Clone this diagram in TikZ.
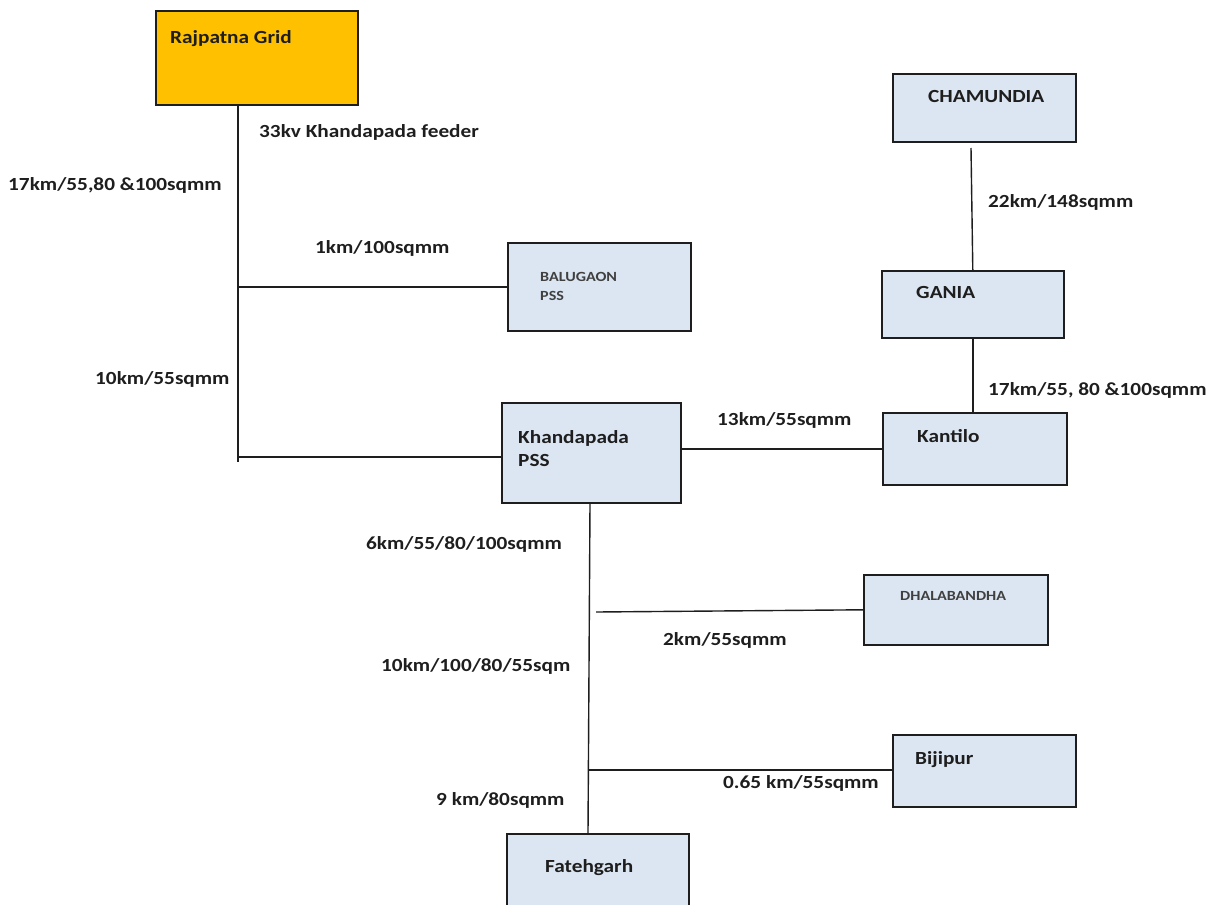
\documentclass[tikz,border=0pt]{standalone}
\usepackage{fontspec}
\setmainfont[FakeStretch=1.15]{Carlito}
\definecolor{gridorange}{HTML}{FFC000}
\definecolor{boxblue}{HTML}{DCE6F2}
\definecolor{inkc}{HTML}{1E1E1E}
\tikzset{
  pbox/.style={draw=inkc, line width=1.6pt, rectangle, inner sep=0pt, anchor=north west},
  lbl/.style={inner sep=0pt, anchor=base west, text=inkc, font=\fontsize{18.5}{20}\selectfont\bfseries},
  small/.style={inner sep=0pt, anchor=base west, text=inkc!85, font=\fontsize{14}{15}\selectfont\bfseries},
  wire/.style={draw=inkc, line width=1.4pt}
}
\begin{document}
\begin{tikzpicture}[x=1pt,y=-1pt]
\useasboundingbox[fill=white] (0,0) rectangle (1221,905);
% boxes
\node[pbox, fill=gridorange, minimum width=202pt, minimum height=94pt] (raj) at (155,10) {};
\node[pbox, fill=boxblue, minimum width=183pt, minimum height=88pt] (balu) at (507,242) {};
\node[pbox, fill=boxblue, minimum width=179pt, minimum height=100pt] (khand) at (501,402) {};
\node[pbox, fill=boxblue, minimum width=184pt, minimum height=72pt] (kant) at (882,412) {};
\node[pbox, fill=boxblue, minimum width=182pt, minimum height=67pt] (gania) at (881,270) {};
\node[pbox, fill=boxblue, minimum width=183pt, minimum height=68pt] (cham) at (892,73) {};
\node[pbox, fill=boxblue, minimum width=184pt, minimum height=70pt] (dhala) at (863,574) {};
\node[pbox, fill=boxblue, minimum width=183pt, minimum height=72pt] (bij) at (892,734) {};
\node[pbox, fill=boxblue, minimum width=182pt, minimum height=90pt] (fateh) at (506,833) {};
% box texts
\node[lbl] (rajT) at (170,43) {Rajpatna Grid};
\node[small] (baluT1) at (540,281) {BALUGAON};
\node[small] (baluT2) at (540,300) {PSS};
\node[lbl] (khandT1) at (518,443) {Khandapada};
\node[lbl] (khandT2) at (518,466) {PSS};
\node[lbl] (kantT) at (917,442) {Kantilo};
\node[lbl] (ganiaT) at (916,298) {GANIA};
\node[lbl] (chamT) at (928,102) {CHAMUNDIA};
\node[small] (dhalaT) at (900,600) {DHALABANDHA};
\node[lbl] (bijT) at (915,764) {Bijipur};
\node[lbl] (fatehT) at (545,872) {Fatehgarh};
% junctions
\coordinate (trTop) at (238,104);
\coordinate (trBot) at (238,462);
\coordinate (jBalu) at (238,287);
\coordinate (jKhand) at (238,457);
\coordinate (chamEnd) at (971,148);
\coordinate (jDhala) at (596,612);
\coordinate (jBij) at (588,770);
% connectors
\draw[wire] (trTop) -- (trBot);
\draw[wire] (jBalu) -- (jBalu -| balu.west);
\draw[wire] (jKhand) -- (jKhand -| khand.west);
\draw[wire] (khand.east |- kant.west) -- (kant.west);
\draw[wire] (chamEnd) -- (gania.north);
\draw[wire] (gania.south) -- (gania.south |- kant.north);
\draw[wire] (khand.south -| 590,0) -- (fateh.north -| 588,0);
\draw[wire] (jDhala) -- (dhala.west);
\draw[wire] (jBij) -- (jBij -| bij.west);
% connector labels
\node[lbl] (l1) at (259,137) {33kv Khandapada feeder};
\node[lbl] (l2) at (8,190) {17km/55,80 \&100sqmm};
\node[lbl] (l3) at (315,253) {1km/100sqmm};
\node[lbl] (l4) at (95,384) {10km/55sqmm};
\node[lbl] (l5) at (717,425) {13km/55sqmm};
\node[lbl] (l6) at (988,207) {22km/148sqmm};
\node[lbl] (l7) at (988,395) {17km/55, 80 \&100sqmm};
\node[lbl] (l8) at (366,549) {6km/55/80/100sqmm};
\node[lbl] (l9) at (663,645) {2km/55sqmm};
\node[lbl] (l10) at (381,671) {10km/100/80/55sqm};
\node[lbl] (l11) at (723,788) {0.65 km/55sqmm};
\node[lbl] (l12) at (436,805) {9 km/80sqmm};
\end{tikzpicture}
\end{document}
